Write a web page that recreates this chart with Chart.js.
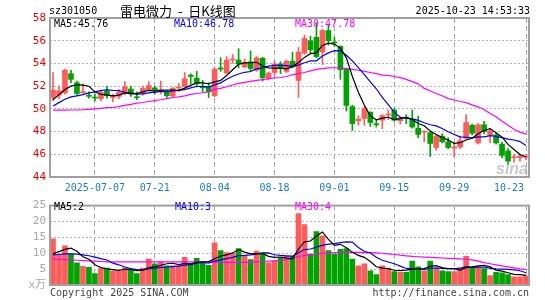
<!DOCTYPE html>
<html>
<head>
<meta charset="utf-8">
<script src="https://cdn.jsdelivr.net/npm/chart.js@4.4.0/dist/chart.umd.min.js"></script>
<style>
    body { margin: 0; background: #fff; }
    #wrap { position: relative; width: 545px; height: 300px; overflow: hidden;
            font-family: "DejaVu Sans Mono", monospace; font-size: 10px; color: #000; }
    canvas { position: absolute; left: 0; }
    .t { position: absolute; white-space: pre; line-height: 12px; }
</style>
</head>
<body>
<div id="wrap">
    <canvas id="k" width="545" height="195" style="top:0"></canvas>
    <canvas id="v" width="545" height="105" style="top:195px"></canvas>

    <div class="t" style="left:49px;top:5px">sz301050</div>
    <div class="t" style="left:120px;top:3px;font:13px 'Noto Sans CJK SC';line-height:16px;word-spacing:3px">雷电微力 - 日K线图</div>
    <div class="t" style="right:15px;top:5px">2025-10-23 14:53:33</div>

    <div class="t" id="lab5" style="left:54px;top:18px"></div>
    <div class="t" id="lab10" style="left:174px;top:18px;color:#0000ff"></div>
    <div class="t" id="lab30" style="left:295px;top:18px;color:#ff00ff"></div>

    <div class="t" style="left:54px;top:201px">MA5:2</div>
    <div class="t" style="left:175px;top:201px;color:#0000ff">MA10:3</div>
    <div class="t" style="left:295px;top:201px;color:#ff00ff">MA30:4</div>

    <div class="t" style="left:50px;top:287px;color:#444">Copyright 2025 SINA.COM</div>
    <div class="t" style="right:16px;top:287px;color:#444">http://finance.sina.com.cn</div>
</div>

<script>
// trading days shown (2025)
const days = [
    '06-26','06-27','06-30',
    '07-01','07-02','07-03','07-04','07-07','07-08','07-09','07-10','07-11','07-14','07-15','07-16','07-17','07-18',
    '07-21','07-22','07-23','07-24','07-25','07-28','07-29','07-30','07-31',
    '08-01','08-04','08-05','08-06','08-07','08-08','08-11','08-12','08-13','08-14','08-15','08-18','08-19','08-20',
    '08-21','08-22','08-25','08-26','08-27','08-28','08-29',
    '09-01','09-02','09-03','09-04','09-05','09-08','09-09','09-10','09-11','09-12','09-15','09-16','09-17','09-18',
    '09-19','09-22','09-23','09-24','09-25','09-26','09-29','09-30',
    '10-09','10-10','10-13','10-14','10-15','10-16','10-17','10-20','10-21','10-22','10-23'
];

const tickDays = ['07-07','07-21','08-04','08-18','09-01','09-15','09-29','10-23'];
const tickText = ['2025-07-07','07-21','08-04','08-18','09-01','09-15','09-29','10-23'];

const opens = [
    50.95, 51.2, 51.4, 53.1, 52.3, 51.42, 51.2, 51.0, 50.9, 51.6,
    51.0, 51.1, 51.4, 51.75, 51.05, 51.35, 51.7, 51.85, 51.6, 51.5,
    51.15, 51.85, 51.95, 52.97, 52.7, 51.9, 51.95, 51.15, 53.6, 53.15,
    54.3, 54.3, 53.7, 54.15, 53.4, 54.45, 52.65, 53.2, 53.95, 53.3,
    54.2, 52.5, 54.9, 56.0, 56.3, 55.0, 56.9, 55.85, 55.5, 53.5,
    50.2, 48.95, 49.15, 49.7, 48.65, 49.0, 49.45, 49.9, 48.95, 49.22,
    49.1, 48.3, 47.95, 47.9, 46.6, 47.6, 47.1, 46.55, 46.65, 47.4,
    48.55, 47.0, 48.6, 47.7, 47.7, 46.9, 46.3, 45.7, 45.7, 45.75
];
const highs = [
    53.2, 52.0, 53.5, 53.4, 52.45, 52.2, 51.5, 51.3, 51.65, 52.0,
    51.3, 51.7, 52.4, 52.0, 51.5, 52.0, 52.4, 52.0, 52.45, 51.65,
    51.9, 52.25, 53.2, 53.1, 53.3, 52.5, 52.3, 53.6, 54.5, 54.6,
    54.8, 55.3, 54.4, 55.1, 54.6, 54.55, 53.25, 54.2, 54.15, 54.3,
    55.0, 55.4, 56.5, 56.4, 57.6, 57.0, 57.4, 56.3, 55.55, 53.6,
    50.3, 49.4, 50.2, 49.75, 49.0, 49.5, 49.9, 50.05, 49.3, 49.5,
    49.9, 49.35, 48.05, 48.05, 47.7, 47.8, 47.45, 46.95, 47.6, 49.5,
    48.65, 48.7, 48.9, 48.25, 47.85, 47.05, 46.5, 46.0, 46.0, 46.0
];
const lows = [
    50.7, 50.9, 51.3, 52.3, 51.25, 51.35, 50.95, 50.7, 50.7, 50.95,
    50.6, 50.9, 51.25, 51.1, 50.8, 51.2, 51.6, 51.3, 51.3, 51.0,
    51.0, 51.5, 51.9, 52.2, 51.95, 51.5, 51.0, 51.05, 53.3, 53.05,
    54.0, 53.6, 53.6, 53.3, 53.3, 52.45, 52.55, 53.0, 53.1, 53.2,
    53.6, 51.0, 54.8, 54.9, 54.5, 53.9, 55.6, 55.5, 52.6, 49.8,
    48.1, 48.55, 48.55, 48.45, 48.4, 48.25, 49.05, 48.9, 48.65, 48.7,
    48.3, 47.45, 47.1, 45.8, 46.35, 47.0, 46.5, 45.8, 46.5, 47.35,
    47.7, 46.9, 47.8, 47.0, 46.9, 45.7, 45.1, 45.3, 45.4, 45.5
];
const closes = [
    51.65, 51.6, 53.4, 52.6, 51.35, 51.5, 51.1, 50.95, 51.45, 51.15,
    51.05, 51.45, 51.95, 51.3, 50.98, 51.8, 52.05, 51.65, 51.67, 51.15,
    51.8, 51.9, 52.65, 52.85, 52.2, 51.85, 51.5, 53.5, 53.5, 54.3,
    54.4, 53.95, 54.1, 53.55, 54.5, 52.75, 53.15, 53.95, 53.55, 54.2,
    53.7, 55.0, 56.2, 55.2, 54.6, 56.9, 56.0, 55.8, 53.45, 50.3,
    48.7, 49.1, 50.0, 48.8, 48.6, 49.4, 49.5, 49.0, 49.2, 49.18,
    48.4, 47.75, 48.0, 46.95, 47.6, 47.1, 46.6, 46.6, 47.2, 48.8,
    47.85, 48.6, 48.0, 48.05, 47.0, 45.9, 45.4, 45.76, 45.85, 45.8
];

const ma5 = [
    50.8, 51.25, 51.7, 52.0, 52.12, 52.09, 51.99, 51.5, 51.27, 51.23,
    51.14, 51.21, 51.41, 51.38, 51.35, 51.5, 51.62, 51.56, 51.63, 51.66,
    51.66, 51.63, 51.83, 52.07, 52.28, 52.29, 52.21, 52.38, 52.51, 52.93,
    53.44, 53.93, 54.05, 54.06, 54.1, 53.77, 53.61, 53.58, 53.58, 53.52,
    53.71, 54.08, 54.53, 54.86, 54.94, 55.58, 55.78, 55.7, 55.35, 54.49,
    52.85, 51.47, 50.31, 49.38, 49.04, 49.18, 49.26, 49.06, 49.14, 49.26,
    49.06, 48.71, 48.51, 48.06, 47.74, 47.48, 47.25, 46.97, 47.02, 47.26,
    47.41, 47.81, 48.09, 48.26, 47.9, 47.51, 46.87, 46.42, 45.98, 45.76
];
const ma10 = [
    50.25, 50.55, 50.85, 51.05, 51.15, 51.25, 51.4, 51.5, 51.6, 51.68,
    51.62, 51.6, 51.46, 51.33, 51.29, 51.32, 51.41, 51.48, 51.51, 51.51,
    51.58, 51.63, 51.7, 51.85, 51.97, 51.98, 51.92, 52.11, 52.29, 52.61,
    52.87, 53.07, 53.22, 53.29, 53.52, 53.61, 53.77, 53.82, 53.82, 53.81,
    53.74, 53.85, 54.06, 54.22, 54.23, 54.65, 54.93, 55.12, 55.11, 54.72,
    54.22, 53.63, 53.01, 52.37, 51.77, 51.02, 50.37, 49.69, 49.26, 49.15,
    49.12, 48.98, 48.78, 48.6, 48.5, 48.27, 47.98, 47.74, 47.54, 47.5,
    47.45, 47.53, 47.53, 47.64, 47.58, 47.46, 47.34, 47.26, 47.12, 46.78
];
const ma30 = [
    49.88, 49.88, 49.88, 49.9, 49.9, 49.92, 49.95, 50.0, 50.05, 50.1,
    50.12, 50.2, 50.3, 50.4, 50.5, 50.56, 50.65, 50.72, 50.8, 50.9,
    51.0, 51.06, 51.15, 51.27, 51.35, 51.42, 51.5, 51.72, 51.8, 51.95,
    52.1, 52.24, 52.33, 52.42, 52.5, 52.58, 52.65, 52.72, 52.76, 52.85,
    53.0, 53.1, 53.2, 53.35, 53.48, 53.55, 53.6, 53.62, 53.62, 53.55,
    53.47, 53.4, 53.3, 53.2, 53.1, 52.97, 52.95, 52.85, 52.75, 52.6,
    52.4, 52.2, 51.8, 51.6, 51.35, 51.15, 50.9, 50.78, 50.65, 50.55,
    50.35, 50.18, 49.95, 49.6, 49.3, 48.9, 48.55, 48.2, 47.95, 47.78
];

// volume, x万
const volumes = [
    14.5, 9.5, 12.3, 9.8, 7.0, 5.9, 5.6, 3.6, 5.2, 5.3,
    4.5, 4.4, 5.4, 4.8, 3.6, 5.3, 8.2, 6.7, 7.3, 6.0,
    6.0, 6.0, 8.7, 6.5, 8.4, 7.0, 6.2, 13.3, 10.8, 10.2,
    10.0, 11.5, 9.2, 8.0, 10.7, 10.2, 7.0, 7.7, 8.5, 9.0,
    9.0, 22.5, 19.0, 9.7, 16.8, 15.5, 10.8, 9.7, 11.2, 11.5,
    8.2, 6.0, 6.7, 4.5, 3.3, 6.0, 5.2, 4.2, 4.0, 4.0,
    7.5, 5.7, 4.5, 7.5, 5.2, 4.5, 4.2, 4.2, 5.5, 9.0,
    5.5, 5.8, 5.2, 3.0, 4.0, 3.8, 3.3, 2.6, 2.6, 2.9
];
const volMa5 = [
    9.8, 10.5, 11.2, 11.6, 10.62, 8.9, 8.12, 6.38, 5.46, 5.12,
    4.84, 4.6, 4.96, 4.88, 4.54, 4.7, 5.46, 5.72, 6.22, 6.7,
    6.84, 6.4, 6.8, 6.64, 7.12, 7.32, 7.36, 8.28, 9.14, 9.5,
    10.1, 11.16, 10.34, 9.78, 9.88, 9.92, 9.02, 8.72, 8.82, 8.48,
    8.24, 11.34, 13.6, 13.84, 15.4, 16.7, 14.36, 12.5, 12.8, 11.74,
    10.28, 9.32, 8.72, 7.38, 5.74, 5.3, 5.14, 4.64, 4.54, 4.68,
    4.98, 5.08, 5.14, 5.84, 6.08, 5.48, 5.18, 5.12, 4.72, 5.48,
    5.68, 6.0, 6.2, 5.7, 4.7, 4.36, 3.86, 3.34, 3.26, 3.04
];
const volMa10 = [
    9.5, 9.6, 9.8, 9.8, 9.7, 9.5, 9.2, 8.8, 8.3, 7.87,
    6.87, 6.36, 5.67, 5.17, 4.83, 4.77, 5.03, 5.34, 5.55, 5.62,
    5.77, 5.93, 6.26, 6.43, 6.91, 7.08, 6.88, 7.54, 7.89, 8.31,
    8.71, 9.26, 9.31, 9.46, 9.69, 10.01, 10.09, 9.53, 9.3, 9.18,
    9.08, 10.18, 11.16, 11.33, 11.94, 12.47, 12.85, 13.05, 13.32, 13.57,
    13.49, 11.84, 10.61, 10.09, 8.74, 7.79, 7.23, 6.68, 5.96, 5.21,
    5.14, 5.11, 4.89, 5.19, 5.38, 5.23, 5.13, 5.13, 5.28, 5.78,
    5.58, 5.59, 5.66, 5.21, 5.09, 5.02, 4.93, 4.77, 4.48, 3.87
];
const volMa30 = [
    8.2, 8.1, 8.0, 7.9, 7.8, 7.7, 7.6, 7.5, 7.4, 7.3,
    7.3, 7.3, 7.3, 7.3, 7.3, 7.3, 7.3, 7.3, 7.3, 7.3,
    7.3, 7.3, 7.3, 7.3, 7.3, 7.3, 7.3, 7.2, 7.2, 7.1,
    7.1, 7.1, 7.1, 7.2, 7.3, 7.4, 7.5, 7.6, 7.8, 8.0,
    8.4, 8.9, 9.3, 9.5, 9.8, 10.0, 10.1, 10.2, 10.3, 10.3,
    10.3, 10.3, 10.2, 10.2, 10.1, 10.0, 9.8, 9.6, 9.4, 9.2,
    9.0, 8.9, 8.8, 8.7, 8.6, 8.5, 8.4, 8.3, 8.2, 8.1,
    7.9, 7.5, 7.05, 6.7, 6.35, 6.0, 5.7, 5.4, 5.1, 4.9
];

const UP = '#ff5b5b';
const DOWN = '#00a300';
const MONO = '"DejaVu Sans Mono", "Noto Sans CJK SC", monospace';

const candleColors = closes.map((c, i) => c >= opens[i] ? UP : DOWN);
const markIdx = tickDays.map(d => days.indexOf(d));

document.getElementById('lab5').textContent = 'MA5:' + ma5[ma5.length - 1].toFixed(2);
document.getElementById('lab10').textContent = 'MA10:' + ma10[ma10.length - 1].toFixed(2);
document.getElementById('lab30').textContent = 'MA30:' + ma30[ma30.length - 1].toFixed(2);

// grey box round the plot
const framePlugin = {
    id: 'frame',
    afterDraw(chart) {
        const { ctx, chartArea: a } = chart;
        ctx.save();
        ctx.strokeStyle = '#a0a0a0';
        ctx.lineWidth = 2;
        ctx.strokeRect(a.left, a.top, a.right - a.left, a.bottom - a.top);
        ctx.restore();
    }
};

// date labels under the k-line panel
const dateLabelPlugin = {
    id: 'dateLabels',
    afterDraw(chart) {
        const { ctx, chartArea: a } = chart;
        const x = chart.scales.x;
        ctx.save();
        ctx.font = '10px ' + MONO;
        ctx.fillStyle = '#1a7bd0';
        ctx.textAlign = 'center';
        ctx.textBaseline = 'middle';
        tickDays.forEach((d, k) => {
            const txt = tickText[k];
            const w = ctx.measureText(txt).width;
            let px = x.getPixelForValue(days.indexOf(d));
            px = Math.min(px, a.right - 5 - w / 2);
            ctx.fillText(txt, px, a.bottom + 11);
        });
        ctx.restore();
    }
};

const watermarkPlugin = {
    id: 'watermark',
    afterDatasetsDraw(chart) {
        const { ctx, chartArea: a } = chart;
        ctx.save();
        ctx.font = 'italic bold 16px "Liberation Sans", sans-serif';
        ctx.fillStyle = 'rgba(165,165,165,0.6)';
        ctx.textAlign = 'right';
        ctx.textBaseline = 'alphabetic';
        ctx.fillText('sina', a.right - 1, a.bottom - 3);
        ctx.restore();
    }
};

function xScale() {
    return {
        offset: true,
        ticks: { display: false, autoSkip: false },
        grid: {
            offset: false,
            drawTicks: false,
            lineWidth: 1,
            color: c => markIdx.includes(c.index) ? '#a8a8a8' : 'rgba(0,0,0,0)'
        },
        border: { display: false, dash: [5, 3] },
        afterFit: s => { s.height = 0; }
    };
}

function lineSet(data, color) {
    return {
        type: 'line',
        data: data,
        borderColor: color,
        borderWidth: 1.2,
        pointRadius: 0,
        tension: 0,
        fill: false,
        order: 0
    };
}

new Chart(document.getElementById('k'), {
    type: 'bar',
    data: {
        labels: days,
        datasets: [
            {
                type: 'bar',
                data: days.map((d, i) => [lows[i], highs[i]]),
                backgroundColor: candleColors,
                barThickness: 1,
                grouped: false,
                order: 2
            },
            {
                type: 'bar',
                data: days.map((d, i) => [opens[i], closes[i]]),
                backgroundColor: candleColors,
                barThickness: 5,
                minBarLength: 1,
                grouped: false,
                order: 1
            },
            lineSet(ma5, '#000000'),
            lineSet(ma10, '#0000ff'),
            lineSet(ma30, '#ff00ff')
        ]
    },
    options: {
        responsive: false,
        animation: false,
        devicePixelRatio: 1,
        events: [],
        layout: { padding: { top: 18, right: 16, bottom: 18, left: 0 } },
        plugins: { legend: { display: false }, tooltip: { enabled: false } },
        scales: {
            x: xScale(),
            y: {
                min: 44,
                max: 58,
                ticks: { stepSize: 2, color: '#ee0000', padding: 4, font: { family: MONO, size: 11 } },
                grid: { color: '#b4b4b4', drawTicks: false },
                border: { display: false, dash: [2, 2] },
                afterFit: s => { s.width = 50; }
            }
        }
    },
    plugins: [framePlugin, dateLabelPlugin, watermarkPlugin]
});

new Chart(document.getElementById('v'), {
    type: 'bar',
    data: {
        labels: days,
        datasets: [
            {
                type: 'bar',
                data: volumes,
                backgroundColor: candleColors,
                barThickness: 5,
                order: 1
            },
            lineSet(volMa5, '#000000'),
            lineSet(volMa10, '#0000ff'),
            lineSet(volMa30, '#ff00ff')
        ]
    },
    options: {
        responsive: false,
        animation: false,
        devicePixelRatio: 1,
        events: [],
        layout: { padding: { top: 7, right: 16, bottom: 15, left: 0 } },
        plugins: { legend: { display: false }, tooltip: { enabled: false } },
        scales: {
            x: xScale(),
            y: {
                min: 0,
                max: 25,
                ticks: {
                    stepSize: 5,
                    color: '#a8a8a8',
                    padding: 4,
                    font: { family: MONO, size: 11 },
                    callback: v => v === 0 ? 'x万' : v
                },
                grid: { color: '#b4b4b4', drawTicks: false },
                border: { display: false, dash: [2, 2] },
                afterFit: s => { s.width = 50; }
            }
        }
    },
    plugins: [framePlugin]
});
</script>
</body>
</html>
